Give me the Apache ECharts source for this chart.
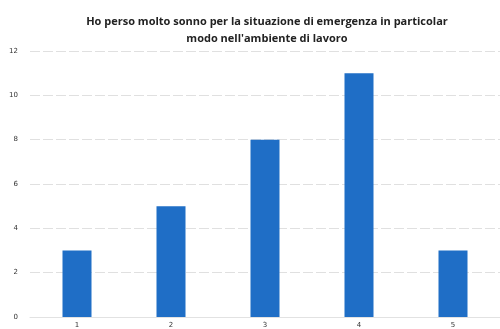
<!DOCTYPE html>
<html>
<head>
<meta charset="utf-8">
<script src="https://cdn.jsdelivr.net/npm/echarts@6/dist/echarts.min.js"></script>
<style>
  html, body { margin: 0; padding: 0; background: #fff; }
  #main { width: 500px; height: 329px; }
</style>
</head>
<body>
<div id="main"></div>
<script>
var categories = ['1', '2', '3', '4', '5'];
var values = [3, 5, 8, 11, 3];
var titleText = "Ho perso molto sonno per la situazione di emergenza in particolar\nmodo nell'ambiente di lavoro";

var chart = echarts.init(document.getElementById('main'));
var option = {
    backgroundColor: '#ffffff',
    animation: false,
    title: {
        text: titleText,
        left: 262,
        top: 8,
        textAlign: 'center',
        textStyle: {
            fontFamily: 'Open Sans',
            fontSize: 11,
            fontWeight: 'bold',
            color: '#222',
            lineHeight: 17
        }
    },
    grid: {
        left: 30,
        right: 0,
        top: 51,
        bottom: 12
    },
    xAxis: {
        type: 'category',
        data: categories,
        axisLine: { show: true, lineStyle: { color: '#e2e2e2' } },
        axisTick: { show: false },
        axisLabel: { fontSize: 7, color: '#333', margin: 5, fontFamily: 'DejaVu Sans' }
    },
    yAxis: {
        type: 'value',
        min: 0,
        max: 12,
        interval: 2,
        axisLine: { show: false },
        axisTick: { show: false },
        axisLabel: { fontSize: 7, color: '#333', margin: 12, fontFamily: 'DejaVu Sans' },
        splitLine: { lineStyle: { color: '#e0e0e0', type: [10, 3], width: 1 } }
    },
    series: [
        {
            type: 'bar',
            data: values,
            barWidth: 29,
            itemStyle: { color: '#1f6ec6' }
        }
    ]
};
chart.setOption(option);
</script>
</body>
</html>
